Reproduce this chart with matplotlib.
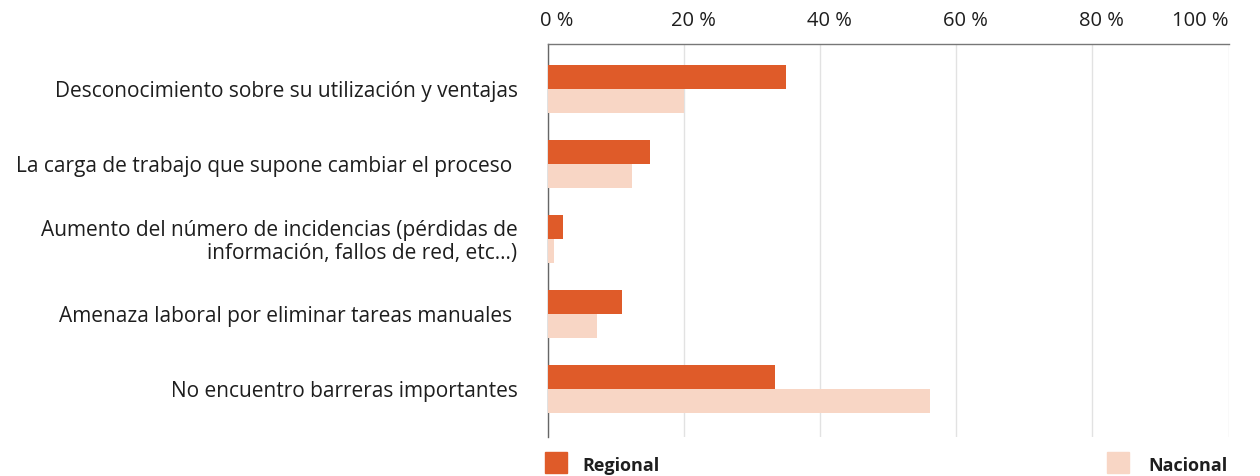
import matplotlib
matplotlib.use('Agg')
import matplotlib.pyplot as plt
from matplotlib.patches import Rectangle
from matplotlib.transforms import ScaledTranslation

plt.rcParams['font.family'] = ['Open Sans', 'DejaVu Sans']

categorias = [
    "Desconocimiento sobre su utilización y ventajas",
    "La carga de trabajo que supone cambiar el proceso ",
    "Aumento del número de incidencias (pérdidas de\ninformación, fallos de red, etc...)",
    "Amenaza laboral por eliminar tareas manuales ",
    "No encuentro barreras importantes",
]
regional = [35.0, 15.0, 2.2, 10.9, 33.3]
nacional = [20.0, 12.3, 0.9, 7.2, 56.2]
ticks = [0, 20, 40, 60, 80, 100]
tick_labels = ["0 %", "20 %", "40 %", "60 %", "80 %", "100 %"]

c_reg = '#df5b29'
c_nac = '#f8d6c5'
c_txt = '#1e1e1e'

fig = plt.figure(figsize=(12.6, 4.76), dpi=100)
ax = fig.add_axes([0.435, 0.082, 0.54, 0.826])

h = 0.32
pos = list(range(len(categorias)))
ax.barh([p - h / 2 for p in pos], regional, height=h, color=c_reg, zorder=3)
ax.barh([p + h / 2 for p in pos], nacional, height=h, color=c_nac, zorder=3)

ax.set_xlim(0, 100)
ax.set_ylim(4.644, -0.596)
ax.xaxis.tick_top()
ax.set_xticks(ticks)
ax.set_xticklabels(tick_labels, fontsize=14.5, color=c_txt)
ax.tick_params(axis='x', length=0, pad=9)
# etiquetas algo desplazadas a la derecha, la de 100 % alineada a la derecha
off = ScaledTranslation(9 / 100, 0, fig.dpi_scale_trans)
for i, lab in enumerate(ax.get_xticklabels()):
    if i < len(tick_labels) - 1:
        lab.set_transform(lab.get_transform() + off)
    else:
        lab.set_horizontalalignment('right')

ax.set_yticks(pos)
ax.set_yticklabels(categorias, fontsize=15, color=c_txt, linespacing=1.1)
ax.tick_params(axis='y', length=0, pad=22)

ax.grid(axis='x', color='#e2e2e2', linewidth=1, zorder=0)
for s in ['right', 'bottom']:
    ax.spines[s].set_visible(False)
ax.spines['top'].set_color('#777777')
ax.spines['left'].set_color('#666666')
ax.spines['top'].set_linewidth(1)
ax.spines['left'].set_linewidth(1)

# leyenda
fig.add_artist(Rectangle((545 / 1260, 1 - 473 / 476), 22 / 1260, 21 / 476,
                         transform=fig.transFigure, color=c_reg))
fig.text(582 / 1260, 1 - 466 / 476, "Regional", fontsize=13, fontweight='bold',
         color=c_txt, va='center')
fig.add_artist(Rectangle((1107 / 1260, 1 - 473 / 476), 22 / 1260, 21 / 476,
                         transform=fig.transFigure, color=c_nac))
fig.text(1148 / 1260, 1 - 466 / 476, "Nacional", fontsize=13, fontweight='bold',
         color=c_txt, va='center')

fig.savefig('out.png', dpi=100)
